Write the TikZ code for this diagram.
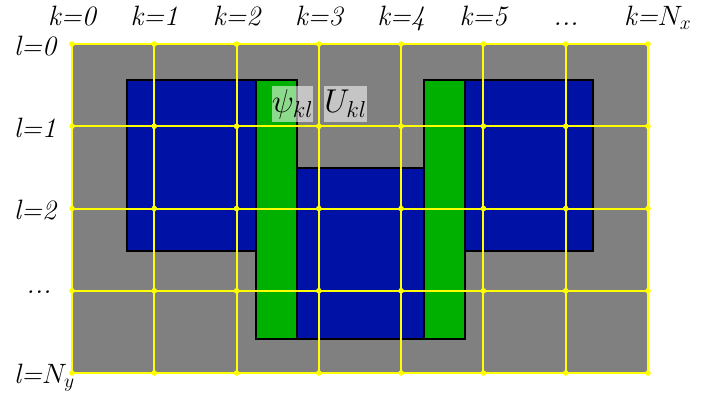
\documentclass[tikz,border=0pt]{standalone}
\usepackage{fix-cm}
\usepackage{fontspec}
\definecolor{gridgray}{RGB}{128,128,128}
\definecolor{shapeblue}{RGB}{0,17,165}
\definecolor{bargreen}{RGB}{0,176,0}
\definecolor{gridyellow}{RGB}{255,255,0}
\begin{document}
\begin{tikzpicture}[x=1pt,y=-1pt,
  lab/.style={font=\fontsize{28}{32}\selectfont\itshape, inner sep=0pt},
  mlab/.style={font=\fontsize{33}{36}\selectfont, inner sep=0pt, fill=white, fill opacity=0.55, text opacity=1, minimum height=36pt},
  gridline/.style={draw=gridyellow, line width=2pt},
  outline/.style={draw=black, line width=2pt, line join=miter}]
\useasboundingbox (0,0) rectangle (712,397);
\fill[gridgray] (72,44) rectangle (648,373);
\filldraw[fill=shapeblue, outline] (127,80) -- (297,80) -- (297,168) -- (424,168) -- (424,80) -- (593,80) -- (593,251) -- (465,251) -- (465,339) -- (256,339) -- (256,251) -- (127,251) -- cycle;
\filldraw[fill=bargreen, outline] (256,80) rectangle (297,339);
\filldraw[fill=bargreen, outline] (424,80) rectangle (465,339);
\foreach \k in {0,...,7} \draw[gridline] ({72+82.286*\k},44) -- ({72+82.286*\k},373);
\foreach \l in {0,...,4} \draw[gridline] (72,{44+82.25*\l}) -- (648,{44+82.25*\l});
\foreach \k in {0,...,7} \foreach \l in {0,...,4} \fill[gridyellow] ({72+82.286*\k},{44+82.25*\l}) circle (2.8pt);
% top labels
\node[lab, anchor=base] (k0) at (72,25) {k=0};
\node[lab, anchor=base] (k1) at (154.3,25) {k=1};
\node[lab, anchor=base] (k2) at (236.6,25) {k=2};
\node[lab, anchor=base] (k3) at (318.9,25) {k=3};
\node[lab, anchor=base] (k4) at (401.1,25) {k=4};
\node[lab, anchor=base] (k5) at (483.4,25) {k=5};
\node[lab, anchor=base] (kdots) at (566,25) {.{}.{}.};
\node[lab, anchor=base west] (kN) at (624,25) {k=$N_x$};
% left labels
\node[lab, anchor=base west] (l0) at (14,55) {l=0};
\node[lab, anchor=base west] (l1) at (14,137) {l=1};
\node[lab, anchor=base west] (l2) at (14,219) {l=2};
\node[lab, anchor=base] (ldots) at (39,293) {.{}.{}.};
\node[lab, anchor=base west] (lN) at (14,383) {l=$N_y$};
% field labels
\node[mlab, minimum width=41pt] (psi) at (292.5,104) {$\psi_{kl}$};
\node[mlab, minimum width=43pt] (U) at (345.5,104) {$U_{kl}$};
\end{tikzpicture}
\end{document}
